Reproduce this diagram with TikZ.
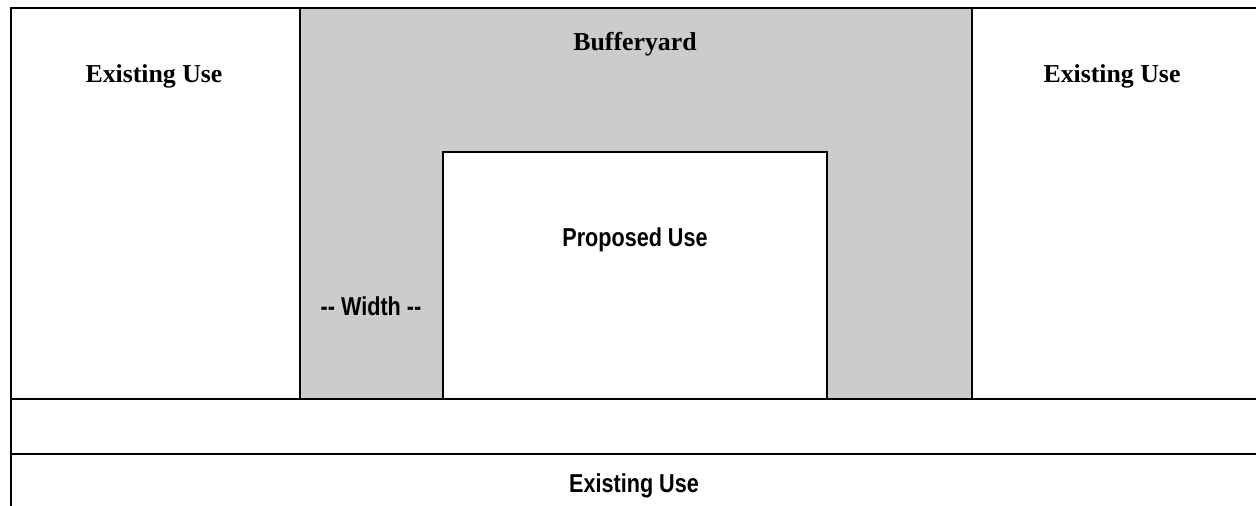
\documentclass[tikz,border=0pt]{standalone}
\usepackage{fontspec}
\setmainfont{Liberation Serif}
\setsansfont{Liberation Sans}
\usepackage{tikz}
\usetikzlibrary{calc}
\definecolor{buffergray}{HTML}{CCCCCC}
\tikzset{
  frameline/.style={line width=1.4pt},
  plotline/.style={line width=0.75pt},
  serifbold/.style={font=\fontsize{12.9}{14}\selectfont\bfseries},
  sansbold/.style={font=\sffamily\fontsize{10.8}{12}\selectfont\bfseries,yscale=1.2,transform shape},
}
\begin{document}
\begin{tikzpicture}[line cap=rect,line join=miter,x=0.5pt,y=-0.5pt]
                \useasboundingbox (0,0) rectangle (1256,506);
                % bufferyard and proposed use
                \fill [buffergray] (300,8) rectangle (972,399);
                \draw [plotline] (300,8) -- (300,399);
                \draw [plotline] (972,8) -- (972,399);
                \draw [plotline,fill=white] (443,399) -- (443,152) -- (827,152) -- (827,399);
                % street strip
                \draw [plotline] (11,399) -- (1256,399);
                \draw [plotline] (11,454) -- (1256,454);
                % outer frame
                \draw [frameline] (1256,8) -- (11,8) -- (11,506);
                \node[serifbold] (leftuse) at (154,76) {Existing Use};
                \node[serifbold] (buffer) at (635,44) {Bufferyard};
                \node[serifbold] (rightuse) at (1112,76) {Existing Use};
                \node[sansbold] (proposed) at (635,240) {Proposed Use};
                \node[sansbold] (width) at (371,306) {-{}- Width -{}-};
                \node[sansbold] (bottomuse) at (634,486) {Existing Use};
            \end{tikzpicture}
\end{document}
